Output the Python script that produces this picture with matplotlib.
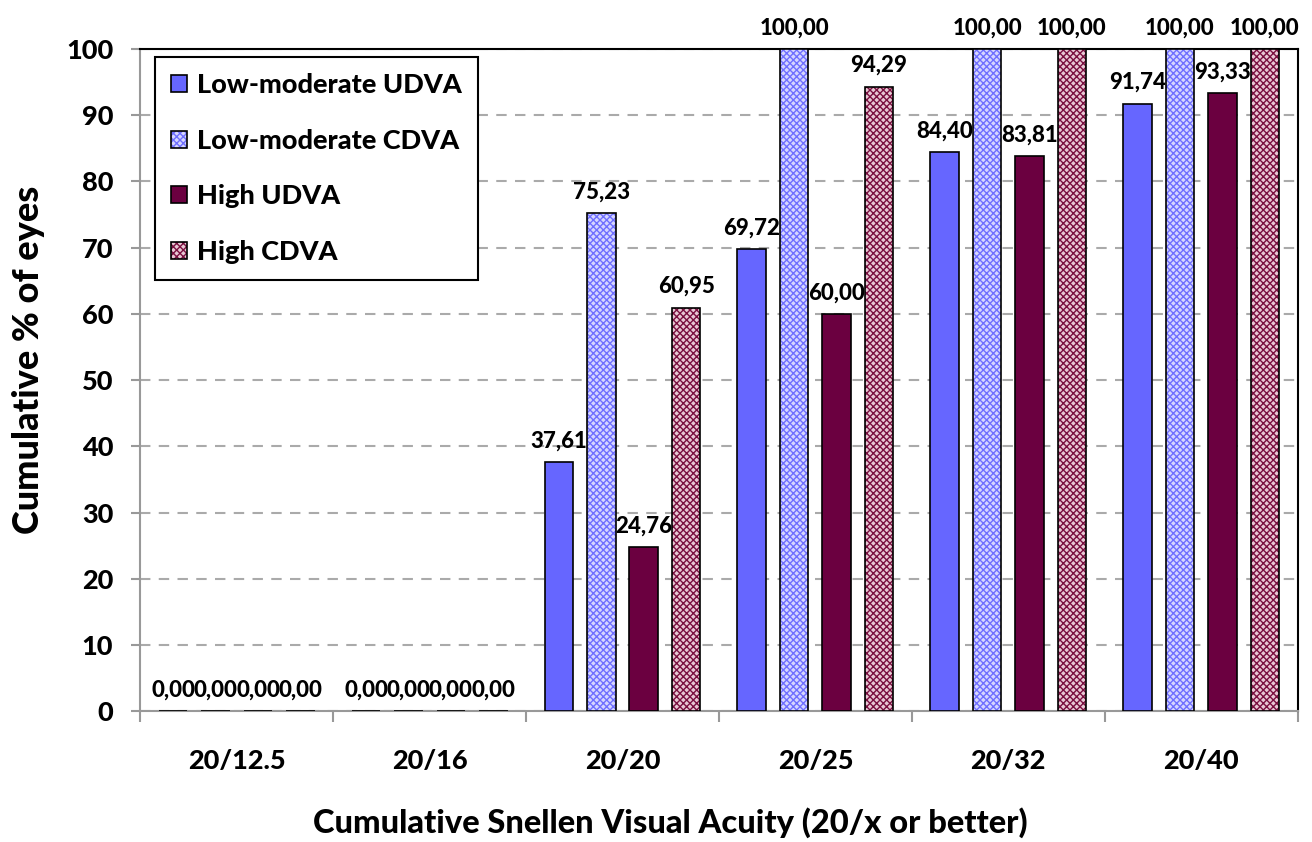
import numpy as np
import matplotlib.pyplot as plt
from matplotlib.patches import Patch

plt.rcParams['font.family'] = ['Lato', 'DejaVu Sans']
plt.rcParams['hatch.linewidth'] = 1.0

categories = ["20/12.5", "20/16", "20/20", "20/25", "20/32", "20/40"]
series = ["Low-moderate UDVA", "Low-moderate CDVA", "High UDVA", "High CDVA"]
low_udva = [0.00, 0.00, 37.61, 69.72, 84.40, 91.74]
low_cdva = [0.00, 0.00, 75.23, 100.00, 100.00, 100.00]
high_udva = [0.00, 0.00, 24.76, 60.00, 83.81, 93.33]
high_cdva = [0.00, 0.00, 60.95, 94.29, 100.00, 100.00]

values = [low_udva, low_cdva, high_udva, high_cdva]
faces = ['#6666ff', '#d6d6ff', '#6b0040', '#e8c8d4']
hatches = [None, 'xxxxx', None, 'xxxxx']
hatch_cols = [None, '#6f6fff', None, '#7a1040']
W = 'black'  # font weight

fig, ax = plt.subplots(figsize=(13.12, 8.42), dpi=100)
fig.subplots_adjust(left=0.107, right=0.989, top=0.942, bottom=0.155)

x = np.arange(len(categories))
step = 0.22
width = 0.148
handles = []
for i, (vals, fc, h, hc) in enumerate(zip(values, faces, hatches, hatch_cols)):
    pos = x + (i - 1.5) * step
    if h:
        ax.bar(pos, vals, width, color=fc, hatch=h, edgecolor=hc, linewidth=0, zorder=3)
        ax.bar(pos, vals, width, fill=False, edgecolor='black', linewidth=1.2, zorder=4)
        handles.append((Patch(facecolor=fc, hatch=h, edgecolor=hc, linewidth=0),
                        Patch(fill=False, edgecolor='black', linewidth=1.2)))
    else:
        ax.bar(pos, vals, width, color=fc, edgecolor='black', linewidth=1.2, zorder=4)
        handles.append(Patch(facecolor=fc, edgecolor='black', linewidth=1.2))
    for px, v in zip(pos, vals):
        ax.text(px, v + 1.6, f"{v:.2f}".replace('.', ','), ha='center', va='bottom',
                fontsize=16, fontweight=W, clip_on=False, zorder=5)

ax.set_xlim(-0.5, len(categories) - 0.5)
ax.set_ylim(0, 100)
ax.set_yticks(np.arange(0, 101, 10))
ax.set_xticks(x)
ax.set_xticklabels(categories, fontsize=19.5, fontweight=W)
ax.set_xticks(np.arange(-0.5, len(categories)), minor=True)
ax.tick_params(axis='x', which='major', length=0, pad=27)
ax.tick_params(axis='x', which='minor', length=8, color='#999999', width=1.5)
ax.tick_params(axis='y', length=6.5, color='#999999', width=1.5, labelsize=19.5, pad=13)
for lab in ax.get_yticklabels():
    lab.set_fontweight(W)

ax.yaxis.grid(True, linestyle=(0, (5, 4)), color='#aaaaaa', linewidth=1.5, zorder=0)
ax.spines['left'].set_color('#999999')
ax.spines['bottom'].set_color('#999999')
for s in ['left', 'bottom', 'top', 'right']:
    ax.spines[s].set_linewidth(1.5)

ax.set_ylabel("Cumulative % of eyes", fontsize=26, fontweight=W)
ax.yaxis.set_label_coords(-0.082, 0.53)
ax.set_xlabel("Cumulative Snellen Visual Acuity (20/x or better)", fontsize=23.5,
              fontweight=W)
ax.xaxis.set_label_coords(0.458, -0.145)

leg = ax.legend(handles, series, loc='upper left', bbox_to_anchor=(0.0125, 0.988),
                borderaxespad=0, fancybox=False, framealpha=1, edgecolor='black',
                prop={'size': 19.5, 'weight': W}, labelspacing=1.17,
                handlelength=0.6, handleheight=0.6, handletextpad=0.37,
                borderpad=0.6)
leg.get_frame().set_linewidth(1.5)

fig.savefig("out.png", dpi=100)
